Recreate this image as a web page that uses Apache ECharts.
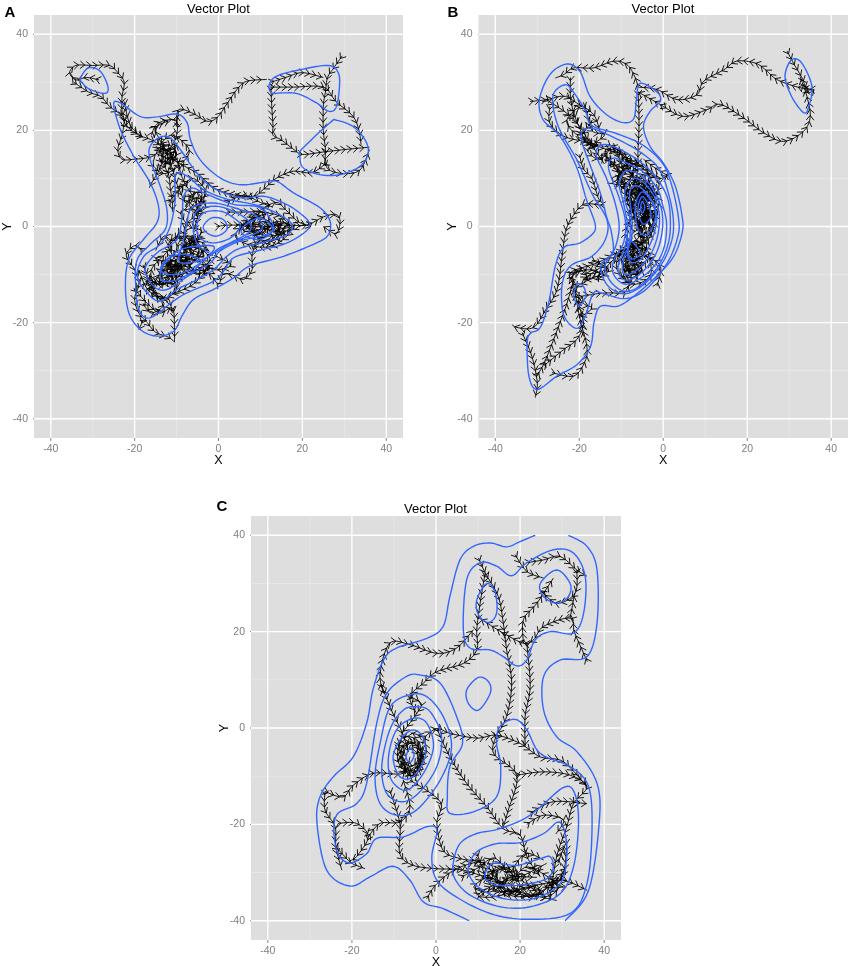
<!DOCTYPE html>
<html>
<head>
<meta charset="utf-8">
<style>html,body{margin:0;padding:0;background:#fff}#main{width:851px;height:966px}</style>
<script src="https://cdn.jsdelivr.net/npm/echarts@6/dist/echarts.min.js"></script>
</head>
<body>
<div id="main"></div>
<script>
const tickValues = [-40, -20, 0, 20, 40];
const minorValues = [-30, -10, 10, 30];

// density contours
const contoursA = [
  [[-32.9,30.9],[-31,33],[-28.2,32.3],[-26.4,29.2],[-27,27.7],[-30.6,28.5],[-32.5,29.9],[-32.9,30.9]],
  [[12.1,29.5],[13.9,31.3],[19.4,32.6],[26.2,33.5],[28.6,31.9],[28.8,28.5],[28,24.7],[26.2,24],[23.4,25.7],[19,27.6],[15.5,27.8],[12.7,27.8],[12.1,29.5]],
  [[19.4,14.6],[19.8,16],[26.6,21.6],[28.2,22.1],[32.1,20.8],[34.9,18.1],[35.7,15.3],[33.7,12.5],[29,10.8],[24.2,10.8],[20.2,12.2],[19.4,14.6]],
  [[-25,25.4],[-23.4,25.7],[-18.7,22.9],[-14.7,22.8],[-9.9,23.4],[-7.5,21.6],[-6.7,18.1],[-4.4,13.9],[0.4,10.1],[5.2,8.7],[10.7,9.2],[13.9,9.4],[17.9,7],[24.2,3.9],[26.6,1.1],[26.2,-1.7],[23.4,-3.4],[15.5,-6.2],[7.5,-8.2],[3.6,-10.7],[-1.2,-13.1],[-6,-15.2],[-8.7,-18.6],[-10.7,-21.8],[-14.7,-22.8],[-18.7,-21.4],[-21.4,-17.9],[-22.2,-12.4],[-21.4,-6.9],[-17.9,-2.7],[-14.7,0.8],[-14.3,4.2],[-16.3,9.1],[-20.2,14.6],[-23.4,20.2],[-25,25.4]],
  [[-16.3,16.7],[-13.9,18.6],[-11.5,18.4],[-9.1,16],[-5.2,11.2],[-1.2,8],[5.2,6],[10.7,6.3],[15.5,4.9],[19.4,2.8],[21.8,0.4],[19.8,-1.7],[15.5,-3.7],[9.1,-5.1],[3.6,-6.5],[1.2,-9.3],[-1.2,-11.4],[-7.5,-13.8],[-10.7,-15.5],[-16.3,-19],[-19,-17.3],[-19.8,-11.7],[-19.4,-6.9],[-16.3,-3.7],[-12.7,-0.6],[-12.3,3.5],[-13.9,8.4],[-16.3,13.9],[-16.3,16.7]],
  [[-10.3,10.8],[-7.5,10.5],[-3.6,7.7],[2,5.7],[8.3,4.6],[13.9,2.8],[17.5,0.4],[16.3,-1.7],[11.5,-3.1],[5.2,-4.5],[2,-6.2],[-1.2,-9],[-5.2,-11.1],[-9.9,-13.1],[-13.9,-15.5],[-17,-13.8],[-19.4,-10.3],[-17.8,-6.2],[-13.9,-3.7],[-11.5,0.1],[-10.3,5.7],[-10.3,10.8]],
  [[-8.3,6.3],[-6.3,8],[-2.8,6.7],[3.6,4.6],[9.9,3.9],[13.1,0.1],[11.5,-1.7],[5.2,-3],[0.4,-5.1],[-2,-7.6],[-6.7,-10],[-12.3,-13.1],[-15.5,-12.4],[-17.5,-8.9],[-14.7,-5.5],[-9.9,-2.7],[-8.7,2.1],[-8.3,6.3]],
  [[-7.5,0.8],[-6.3,3.9],[-1.2,4.9],[5.2,3.5],[9.1,2.1],[10.3,-0.6],[5.2,-2.7],[0.4,-4.4],[-2.8,-6.5],[-7.5,-7.6],[-9.5,-6.9],[-8.3,-2.7],[-7.5,0.8]],
  [[-6,-0.6],[-5.2,3.2],[-0.4,4.2],[4.4,2.8],[7.5,0.8],[7.1,-1.3],[2.8,-3.4],[-1.2,-5.5],[-3.6,-4.8],[-5.2,-3.4],[-6,-0.6]],
  [[-5.2,0.1],[-3.6,2.8],[0.4,3.2],[3.6,1.8],[5.2,0.1],[2.8,-2.4],[-1.2,-3.4],[-4.4,-2.4],[-5.2,0.1]],
  [[-3.6,0.1],[-1.6,1.8],[1.2,1.4],[2,-0.6],[-0.4,-2],[-2.8,-1.3],[-3.6,0.1]],
  [[-13.9,-8.9],[-11.5,-6.2],[-7.5,-4.4],[-1.2,-4.1],[-2.8,-6.5],[-7.5,-9.3],[-11.5,-10],[-13.9,-8.9]],
  [[-13.9,-10.3],[-13.5,-8.6],[-11.5,-6.5],[-8.4,-5.8],[-4.4,-6.9],[-5.6,-8.9],[-9.6,-11],[-13.1,-11.4],[-13.9,-10.3]],
  [[5.9,-0.1],[9.9,1.8],[13,-0.6],[9.9,-2.7],[5.9,-1.7],[5.9,-0.1]]
];
const contoursB = [
  [[29,31.3],[30.6,34.7],[33,34],[35.4,29.2],[34.6,24.8],[33.4,23.7],[30.6,27],[29,31.3]],
  [[-5.5,29.8],[-1.5,28],[-0.7,26.1],[-3.1,24],[-4.7,20.8],[-3.1,16.6],[0.1,13.1],[2.9,8.3],[4.5,2.1],[4.5,-1.3],[2.5,-6.2],[-1.5,-10.3],[-7,-14.5],[-10.9,-16.6],[-15,-16.6],[-16.5,-20],[-17.3,-24.9],[-20.5,-28.7],[-25.3,-31.1],[-30,-33.9],[-32,-31.1],[-32.4,-24.2],[-31.6,-22.2],[-29.3,-21],[-27.3,-15.9],[-25.7,-8.2],[-23.7,-4.4],[-19.8,-3.4],[-16.6,-1.3],[-16.3,0.8],[-18.3,5.6],[-20.7,12.5],[-24.6,18.8],[-28.6,22.2],[-29.5,26.4],[-27,31.6],[-23,33.8],[-19.8,32.2],[-17.4,27],[-13.4,23.2],[-9.4,21.6],[-7,22.5],[-6.4,26.3],[-5.5,29.8]],
  [[-26.3,27.1],[-23.3,29.5],[-21,27.5],[-18.5,24],[-17,21],[-11,19.3],[-5,17],[-0.2,13.2],[2,8.6],[3.6,2],[3.5,-2],[1,-7.5],[-4,-13],[-9,-15],[-14.2,-14],[-16.6,-13.8],[-18.5,-18.4],[-20.6,-21.2],[-23.7,-18.4],[-24.1,-12.2],[-22.1,-8.2],[-17,-6.2],[-13.8,-2.7],[-13.4,1.4],[-17,6.9],[-20.6,13.9],[-25,20.8],[-26.3,27.1]],
  [[-19,20],[-16.5,20.3],[-11,18.2],[-5.5,15.5],[-1,12],[1.2,7],[2.4,1.5],[2,-3],[-0.5,-8],[-5,-12.3],[-9.5,-14],[-13.5,-12],[-14.8,-8],[-12,-5.5],[-12.4,-1],[-13.5,2],[-15,7],[-17.5,13],[-19.5,18],[-19,20]],
  [[-16,15],[-14.5,17],[-11,16.3],[-6,13.8],[-2,10.5],[1,6],[1.7,1],[1.2,-3.5],[-1,-8],[-5,-12],[-9,-13.5],[-12.5,-11.5],[-13.8,-8],[-11.5,-4.5],[-10.5,0],[-11.5,5],[-13.5,10],[-16,15]],
  [[-13,12],[-12,14.2],[-9,13.3],[-5,11.5],[-1.5,8],[0,4],[0.8,0.5],[0.3,-4],[-1.5,-7.5],[-5,-10.5],[-9,-12],[-11.8,-10],[-11.8,-7],[-9.5,-3.5],[-9,1],[-10.5,6],[-13,12]],
  [[-10.5,9],[-9,11.5],[-6,11],[-3,8.5],[-0.7,4.5],[-0.1,0.5],[-1,-4],[-3,-7.5],[-6.5,-10.5],[-9.5,-11],[-10.8,-8.5],[-9,-4],[-8.5,0],[-9.5,5],[-10.5,9]],
  [[-9,8],[-7,10],[-4.5,9],[-2,6],[-0.9,2],[-1.5,-2.5],[-3.5,-6.5],[-7,-9.5],[-9.5,-9.8],[-9.5,-7],[-8,-3],[-8,2],[-9,5],[-9,8]],
  [[-8,7],[-6.5,8.5],[-4,7],[-2,4],[-1.6,1],[-2.8,-3],[-5,-6.5],[-7.5,-7.5],[-8.5,-5.5],[-7.5,-2],[-7.5,2],[-8,7]],
  [[-6.5,5],[-5,7.2],[-3,5.5],[-1.8,2.5],[-2.5,0],[-4,-1.8],[-5.8,-1],[-6.6,2],[-6.5,5]],
  [[-6,4],[-5,6.2],[-3.5,4.5],[-3,2],[-4.5,0.5],[-5.5,1.5],[-6,4]],
  [[-5.4,4],[-5,5.2],[-4.4,4],[-5,2.8],[-5.4,4]],
  [[-8.5,-3],[-7,-3.5],[-5.5,-5.5],[-6.5,-6.5],[-8,-6.5],[-8.5,-3]],
  [[-20.5,-12],[-19,-12.5],[-18.5,-14.5],[-20,-16.5],[-21.3,-14.5],[-20.5,-12]]
];
const contoursC = [
  [[23.6,40],[20,38.7],[16.8,37.6],[12.9,38.4],[8.9,37.7],[5.7,34.9],[3.3,27.3],[1.7,21.1],[-2.2,18.6],[-9.4,16.6],[-12.5,14.1],[-15,7.9],[-16.5,1],[-19.7,-6],[-24.4,-10.1],[-27.6,-14.3],[-28.3,-19.8],[-26,-29.5],[-20.5,-32.8],[-15.7,-30.9],[-10.2,-28.7],[-6.2,-31.6],[-3,-36.1],[1.7,-37.5],[7.9,-40]],
  [[31.5,40],[35.9,37.7],[38.3,32.8],[38.3,21.8],[35.9,14.8],[29.5,14.1],[25.6,10.7],[25.6,3.7],[28.7,-1.8],[33.5,-4.9],[38.3,-11.5],[38.8,-19.8],[36.3,-33.7],[30.7,-40]],
  [[6.5,20.4],[7.3,30.8],[10.5,34.3],[14.4,33.6],[18,31.6],[21.6,34.3],[27.9,37],[32.7,36.3],[35.5,31.4],[35.1,23.8],[32.7,19.7],[27.2,20],[23.6,18.3],[21.6,14.1],[19.2,12.9],[16,14.8],[12.9,16.2],[8.1,16.6],[6.5,20.4]],
  [[9.7,26.6],[12.1,30],[14.1,28],[14.4,23.8],[12.5,21.9],[10.1,23.5],[9.7,26.6]],
  [[24.8,30],[28.7,32.8],[31.9,30],[31.5,27.3],[28.7,25.9],[25.6,27.3],[24.8,30]],
  [[7.3,7.9],[10.1,10.5],[12.5,9.6],[12.9,7.2],[10.1,3.7],[7.7,5.1],[7.3,7.9]],
  [[-3.8,11],[1,9.3],[4.9,2.4],[6.3,-3.2],[3.3,-8],[2.7,-14.3],[3.3,-17.7],[8.9,-17.4],[14.4,-14.3],[15.4,-8],[14.4,-3.2],[15.2,0.3],[18.8,1.8],[21.6,-0.4],[24.8,-5.3],[31.9,-8],[36.3,-12.2],[37.1,-21.2],[35.9,-32.3],[31.9,-38.5],[21.6,-39.7],[12.9,-38.5],[4.9,-35.1],[0.2,-31.6],[-1,-26.8],[0.2,-21.2],[-2.2,-20.5],[-7.8,-22.6],[-14.1,-22.9],[-16.5,-26.1],[-20.5,-28],[-23.3,-26.1],[-24.3,-21.2],[-23.3,-17.7],[-18.9,-15.7],[-16.5,-11.5],[-14.1,1],[-11.7,7.2],[-7,10.7],[-3.8,11]],
  [[-10.9,4.4],[-6.2,6.9],[-2.2,6.5],[1.7,2.4],[3.7,-3.9],[1,-10.8],[-4.6,-17],[-9.4,-18.1],[-13.3,-15.7],[-14.5,-10.1],[-13.3,-3.2],[-10.9,4.4]],
  [[-4.6,4.4],[-1.4,3.4],[1.3,-1.8],[0.2,-8],[-3.8,-13.2],[-7.8,-15.3],[-11.7,-13.6],[-12.9,-8],[-11,-0.4],[-7.8,3.7],[-4.6,4.4]],
  [[-5.4,2],[-2.2,1],[-0.6,-3.9],[-3,-9.4],[-7,-12.9],[-10.6,-10.8],[-11.3,-6],[-9.4,-0.4],[-5.4,2]],
  [[-5.4,-0.4],[-3,-2.1],[-2.6,-6],[-5.4,-10.1],[-8.6,-10.1],[-10.2,-6],[-8.2,-2.1],[-5.4,-0.4]],
  [[-6.2,-4.2],[-5.2,-5.6],[-6.2,-7.2],[-7.1,-6],[-6.2,-4.2]],
  [[4.1,-28.1],[5.7,-24],[9.7,-21.9],[15.2,-20.9],[22.4,-18.1],[30.2,-12.4],[33,-13.6],[33.9,-19.8],[32.7,-28.8],[29.5,-34.4],[22.4,-37.1],[15.2,-37.1],[8.1,-34.7],[4.5,-31.3],[4.1,-28.1]],
  [[7.7,-28.8],[9.7,-25.7],[14.4,-24],[20,-23.8],[25.6,-21.9],[29.1,-19.5],[30.7,-21.9],[31.1,-26.7],[29.5,-32.3],[23.2,-35.4],[16,-35.4],[10.5,-33.3],[8.1,-30.9],[7.7,-28.8]],
  [[11.7,-30.2],[13.7,-28.1],[19.2,-28.5],[24.8,-27.1],[27.1,-26.7],[27.9,-28.8],[26.3,-31.3],[20,-32.6],[14.4,-32.6],[12.1,-31.6],[11.7,-30.2]]
];

// trajectories (black fishbone lines), waypoints
const pathsA = [
  [[29.5,35.5],[27.5,33],[26,31],[25.5,28],[25,25],[25,20],[25.5,16],[25.5,13],[27,11.5],[31,11],[34,12],[36,16]],
  [[12.5,30],[16,31],[20,32],[25,31]],
  [[12.5,29],[18,29],[25,29],[28,26],[32,23],[33.5,20],[34,17]],
  [[12.5,29],[12.7,25],[13,21],[13,19],[15,18],[18,16],[20,15],[25,15.5],[30,16],[36,16.5]],
  [[-10,21],[-9.5,24.3],[-6,23.5],[-2.8,21.9],[-0.4,22.6],[2,25.5],[4.4,28.5],[6.7,30.2],[11.5,30.6]],
  [[25.8,13.2],[22.2,11.2],[17.9,11.5],[13.9,10.1],[10.7,7.7],[8.3,6.3],[3.6,6.6],[-1,8],[-5,11],[-9,13],[-12,15],[-14,18],[-15,20.5],[-12,22]],
  [[-28.5,30.5],[-31.5,31],[-34,30.5],[-35.5,32],[-34,33.5],[-30,33.5],[-26,33.5],[-24,32],[-22.5,30],[-23,27],[-23,24],[-22.5,22],[-23,19],[-24,16],[-23,14],[-20,14],[-16,14.5],[-13,16],[-10,14],[-9,11],[-8,9],[-6,6],[-5,3],[-8,0],[-8,-4]],
  [[-34.5,30],[-31,28],[-28,27],[-26,25],[-23,23],[-22,21],[-19,19],[-16,18],[-13,16],[-11,12],[-10,9],[-8,5]],
  [[-13,15],[-14,12],[-16,9],[-16.5,8]],
  [[-14,14],[-12,11],[-11.5,8],[-11,5],[-11,3]],
  [[-0.5,0],[3,0.3],[8,0],[12,0],[16,0.3],[21,0.3],[25,2],[28,2.5],[29,1],[28,-1.5],[25,0]],
  [[5,0],[9,2],[12,1],[15,-2],[11,-3],[8,-1],[12,-2],[16,-1],[11,1],[7,0],[10,-1.5],[14,1],[18,-0.5],[13,-1],[9,0.5],[6,-1],[11,-0.5],[15,0.5],[12,-3.5],[9,-2]],
  [[8,2],[11,4],[14,5],[16,3.5],[19,1],[22,0]],
  [[2,3],[6,3],[10,3],[15,2],[17,-1],[13,-4],[8,-4],[4,-2],[7,1],[12,3]],
  [[9,-3],[8,-6],[8,-9],[6,-11],[3,-10],[1,-10],[0,-12],[-2,-10],[-5,-9],[-9,-10]],
  [[-7,-5],[-5,-3],[-8,-2],[-10,-5],[-6,-7],[-3,-4],[-7,-3],[-9,-7],[-11,-9],[-12,-7],[-14,-10],[-11,-12],[-8,-9],[-12,-8],[-10,-11],[-15,-12],[-16,-9],[-13,-6],[-11,-4]],
  [[-6,-3],[-8,-5],[-5,-6],[-8,-7],[-10,-8],[-12,-10],[-9,-10],[-11,-7],[-13,-9],[-14,-12],[-10,-9],[-7,-6],[-6,-5],[-9,-4],[-4,-5],[-7,-8],[-10,-6],[-12,-9]],
  [[-16,-13],[-13,-9],[-10,-13],[-14,-15],[-17,-11],[-13,-12],[-9,-8],[-5,-10],[-2,-8],[-6,-12],[-11,-14]],
  [[-4,-2],[-8,-5],[-6,-9],[-2,-7],[-5,-4],[-9,-2],[-12,-4],[-9,-9],[-14,-7],[-16,-6]],
  [[-9,8],[-6,10],[-3,7],[-6,4],[-9,3],[-7,0],[-4,-1],[-7,-4]],
  [[-16,13],[-13,11],[-9,13],[-7,16],[-11,19],[-14,17]],
  [[-18,-16],[-16,-18],[-13,-16],[-17,-13],[-19,-9]],
  [[-18,-5],[-20,-4],[-22,-6],[-20,-9],[-19,-12],[-20,-15],[-19,-18],[-17,-20],[-15,-22],[-12,-23],[-10.5,-24]],
  [[-20,-13],[-17,-16],[-14,-18],[-11,-17],[-10.5,-21],[-10.5,-24]],
  [[-18,-8],[-15,-14],[-12,-15],[-11,-18]],
  [[-18,-19.5],[-19,-21.5]],
  [[-8,5],[-5,6],[-3,4],[-6,3],[-7,6],[-4,7],[-5,2],[-6,-1]],
  [[-12,5],[-10,7],[-8,9]],
  [[-16,19],[-15,21],[-13,22],[-10,22],[-10,19],[-11,17],[-12.5,15]],
  [[-15,16],[-12,17],[-10,15],[-13,13],[-11,15],[-14,16],[-12,13],[-10,17]],
  [[-22.5,26],[-21,21],[-18,18.5]],
  [[2,5],[6,6.5],[10,5],[13,4]],
  [[-1,-6],[3,-8],[-1,-9],[-4,-7]],
  [[-9,-1],[-11,-3],[-13,-2],[-15,-5]]
];
const pathsB = [
  [[29.5,36.5],[31,34],[33,31],[34.5,28],[36,28.5]],
  [[35.8,28.5],[32,29],[27,30.6],[24.5,32.5],[21.9,34],[17.5,34.4],[14.4,32.6],[9.6,30.2],[8,27.4],[3.3,26.4],[-1.5,28.5],[-5.9,29]],
  [[0,25],[4.8,22.9],[10.4,24.3],[13.6,25.4],[19.1,22.6],[23.9,19.5],[28.7,17.7],[33.4,19.8],[35,22.9],[34.2,27.1],[32.6,31.2]],
  [[0,25],[-3,26.5],[-6,28]],
  [[-6,28],[-5.8,24],[-5.8,20],[-6,16],[-6,13]],
  [[-5.9,29],[-7,31.6],[-8.7,33.7],[-11.8,34.4],[-16.6,33],[-21.3,33],[-23.7,31.6],[-25.7,30.9]],
  [[-31.7,26],[-27.7,26.4],[-23.7,27.1],[-20.6,25.7],[-16.6,23.3],[-15,19.5]],
  [[-22.1,31],[-22.1,27],[-21.3,23.6],[-19.8,20.2],[-18.3,17.4],[-16,16.7]],
  [[-27,25],[-27,21.5],[-23.7,18.8],[-19,17.7],[-14.2,16.7]],
  [[-28,26.5],[-21.5,22.5],[-17.5,17.5],[-14,13]],
  [[-19,18],[-15,16.5],[-11,15],[-9,11],[-6,12],[-9,14],[-7,10],[-4,11],[-1,10],[1,10.5]],
  [[-6,5],[-5,8],[-7,9],[-4,3],[-6,0],[-4.5,2],[-6.5,6],[-4,6],[-5,1],[-7,3],[-5,7],[-3,5],[-5,-1],[-5,-3],[-7,-5],[-9,-6],[-6,-8],[-8,-9],[-10,-7],[-7,-4],[-5,-6]],
  [[-4,8],[-6,3],[-3,2],[-5,5],[-6,8],[-8,6],[-6,1],[-3,4]],
  [[-7,10],[-5,6],[-7,4],[-4,5],[-6,9],[-3,7],[-5,3],[-3,0],[-6,-2],[-4,4],[-8,8],[-5,10],[-2,6],[-6,6],[-4,1],[-7,1]],
  [[-12,16],[-8,14],[-4,12],[-1,9],[-3,6],[-8,7],[-11,10],[-7,13],[-3,10],[-6,7],[-8,3],[-7,-1],[-3,2],[-1,5],[-4,9]],
  [[-9,5],[-7,8],[-4,9],[-2,5],[-3,-1],[-6,-4],[-9,-2],[-7,2],[-4,-3],[-2,2],[-5,4]],
  [[-3,-6],[-6,-3],[-10,-5],[-11,-9],[-7,-12],[-3,-10],[-4,-6],[-8,-8],[-10,-11]],
  [[-17,-7],[-13,-9],[-16,-11],[-12,-7],[-9,-5]],
  [[-22,-11],[-20,-9],[-18,-11],[-21,-13],[-19,-16],[-17,-17],[-20,-19]],
  [[-17,22],[-20,19],[-23,22],[-19,25],[-17,20],[-14,19],[-18,16],[-15,14],[-12,17]],
  [[-10,14],[-8,12],[-12,13],[-14,15],[-10,11],[-12,9],[-9,9],[-7,12],[-11,16],[-13,17],[-9,15]],
  [[-13,14],[-10,10],[-9,7],[-7,3],[-9,9],[-11,12]],
  [[-5,-8],[-8,-6],[-6,-10],[-9,-8],[-7,-3],[-4,-5],[-8,-4],[-6,-6],[-9,-11],[-7,-12]],
  [[-20,15],[-19,12],[-17,10],[-15.5,6],[-14.5,4.5],[-19,4.6],[-22,1.5],[-23.3,-1.3],[-24.1,-6.2],[-25.3,-13.1],[-28,-17.3],[-30.9,-21],[-34.9,-21],[-36,-20.4]],
  [[-33.6,-22.1],[-31.3,-27],[-30,-32.5],[-30.5,-35.6]],
  [[-30,-31],[-28,-27.7],[-24.9,-20.7],[-22.9,-15.9],[-21.3,-11]],
  [[-28.5,-29],[-23.7,-25.6],[-20.6,-23.5],[-19,-20],[-20.2,-15.2],[-16.6,-14.1],[-12.6,-13.8],[-9.4,-13.8],[-7.9,-11.7]],
  [[-26.5,-30.4],[-21.3,-31.1],[-18.6,-28],[-18.2,-24.9],[-19.8,-19.3],[-21.3,-12.4],[-22.1,-9.6],[-15.8,-7.6],[-11,-5.5],[-6.3,-4.1]],
  [[-22,-10],[-18,-9],[-15,-10],[-19,-11],[-14,-8]],
  [[-1.5,-12.4],[-0.7,-8.2],[-4.7,-6.2],[-7.9,-7]],
  [[1.3,10.5],[-1.5,11.9],[-4.7,14]],
  [[-8,-11],[-5,-9],[-8,-7],[-6,-5],[-9,-8],[-7,-10],[-4,-7]]
];
const pathsC = [
  [[-26.4,-13.2],[-22.1,-14.3],[-19.7,-11.9],[-14.9,-9.4],[-7.8,-9.4],[-6.2,-6]],
  [[-26.4,-13.2],[-26.4,-17],[-24,-20.5],[-23.8,-24.7],[-22.4,-29.5]],
  [[-23.3,-19.8],[-18.9,-19.8],[-16.1,-22.6],[-18.9,-26.7],[-20.5,-27.8],[-16.9,-29.2]],
  [[-23.8,-24.7],[-20.5,-27.8]],
  [[-16.1,-22.6],[-13.3,-19.8],[-8.6,-19.5],[-6.2,-16.4],[-7.8,-10.8]],
  [[-11,-12.9],[-8.6,-19.8],[-8.6,-26.1],[-5.4,-28.5],[0.2,-29.2],[6.5,-29.5],[13.7,-31.6]],
  [[-2.2,-35.4],[0.2,-32.3],[4.9,-29.2],[11.3,-27.4]],
  [[-6.2,-10.8],[1,-15.3],[0.2,-19.8],[1.7,-25.4],[5.7,-27.1],[11.3,-28.1],[14.4,-31.6]],
  [[-3,-2.1],[0.2,-0.1],[3.3,-1.1],[9.7,-2.1],[14.4,-1.5],[20,-3.2],[24.8,-6],[30.3,-7],[35.9,-12.2]],
  [[0.2,-0.1],[3.3,-6],[7.3,-11.5],[12.1,-16.4],[16,-20.9],[20,-22.2],[21.6,-26.7],[24.8,-30.9]],
  [[14.4,-1.5],[13.7,-5.3],[19.2,-9.8],[17.2,-17],[16,-20.5]],
  [[19.2,-9.8],[25.6,-9.1],[31.9,-9.8],[35.9,-12.2],[32.7,-15.7],[31.1,-20.5],[28.7,-26.7],[27.1,-35.1]],
  [[22.4,-17.7],[27.9,-15.3],[35.9,-15.7]],
  [[21.6,-20],[25.6,-18.1],[30.3,-19.1],[28.5,-22]],
  [[36,13.8],[33,19.7],[31.9,22.8],[25.6,21.1],[23.2,18.3],[20.8,17.6],[16,19.7],[12.1,21.8],[9.7,23.1]],
  [[20.8,17.6],[20.8,22.5],[24,25.9],[27.9,31.1]],
  [[10.1,35.3],[11.7,32.2],[14.8,27.3],[16,21.8],[16.8,16.2],[18,9.3],[16.8,2.4],[14.4,-1.5]],
  [[11.7,32.2],[10.5,25.9],[9.7,20.4],[9.7,16.2],[6.5,13.4],[0.2,11.7],[-3,9.3],[-6.2,6.5],[-4.6,3]],
  [[21.6,17.6],[22.4,8.6],[21.2,2.4],[21.2,-3.9]],
  [[-12.5,7.2],[-13.3,11.4],[-11,17.6],[-6.2,17.3],[0.2,15.5],[4.9,16.6],[8.9,20.4]],
  [[-13,9],[-10.6,3.7],[-8,-1],[-6.5,-5]],
  [[18.8,36],[21.6,32.5],[25.6,31.1]],
  [[21.6,34.3],[25.6,34.9],[29.5,35.6],[33.5,32.8],[35.9,31.5]],
  [[33.5,32.8],[33.1,28],[28.7,25.9],[24.8,28.7]],
  [[31.9,22.8],[33,28]],
  [[9.7,-34.7],[14.4,-32.3],[20,-30.9],[26.3,-28.1]],
  [[13,-28],[16,-33],[21.6,-34.4],[28.7,-35.8]],
  [[9.7,-26],[14.4,-33.7],[25.6,-32.3],[30.3,-31.6],[36,-33.7]],
  [[14,-30],[17,-29],[21,-32],[25,-34],[19,-35],[15,-33],[18,-31],[24,-31]],
  [[6,-31],[10,-29],[14,-27],[17,-31],[13,-34],[9,-33],[13,-31],[17,-34],[22,-33],[26,-35],[29,-33],[25,-30],[21,-29],[18,-33],[23,-35],[28,-32],[31,-29]],
  [[12,-31],[16,-29],[20,-33],[14,-35],[10,-35]],
  [[29,-28],[31,-24],[30,-31],[26,-33],[31,-33]],
  [[17.6,-30.2],[21.2,-26.1],[25.6,-27.4]],
  [[-6,-4],[-4,-6],[-6,-8],[-8,-6],[-6,-3],[-3.5,-5],[-5,-8.5],[-8,-8],[-8,-4],[-5.5,-3],[-3,-6.5],[-6,-10],[-8,-7]],
  [[-9,-3],[-7,-9],[-4,-8],[-4,-3],[-8,-2],[-9,-7],[-5,-10],[-3,-5]],
  [[-2.2,-5.3],[-3,-2.1],[-6,-1]],
  [[-6.2,6.5],[-3.5,5],[-5,2.5],[-8,-1]]
];

const panels = [
  { letter: 'A', letterX: 4.5, letterY: 5, titleY: 2.5, left: 34, right: 448, top: 15, bottom: 528, contours: contoursA, paths: pathsA },
  { letter: 'B', letterX: 447.5, letterY: 5, titleY: 2.5, left: 478.5, right: 3, top: 15, bottom: 528, contours: contoursB, paths: pathsB },
  { letter: 'C', letterX: 216.5, letterY: 499.5, titleY: 502.5, left: 251, right: 230, top: 516, bottom: 26, contours: contoursC, paths: pathsC }
];

const SPACING = 6.2; // px between chevrons
const WING = 6;      // px
const ANGLE = 0.68;

// rounds a line in screen space, wraps round when the line is a closed loop
function roundPath(pts) {
  const last = pts.length - 1;
  const closed = pts[0][0] === pts[last][0] && pts[0][1] === pts[last][1];
  const at = i => {
    if (closed) return pts[(i + last) % last];
    return pts[Math.min(Math.max(i, 0), last)];
  };
  const out = [];
  for (let s = 0; s < last; s++) {
    const p0 = at(s - 1), p1 = at(s), p2 = at(s + 1), p3 = at(s + 2);
    for (let k = 0; k < 8; k++) {
      const t = k / 8, t2 = t * t, t3 = t2 * t;
      out.push([0, 1].map(d => 0.5 * (2 * p1[d] + (p2[d] - p0[d]) * t + (2 * p0[d] - 5 * p1[d] + 4 * p2[d] - p3[d]) * t2 + (3 * p1[d] - p0[d] - 3 * p2[d] + p3[d]) * t3)));
    }
  }
  out.push(pts[last]);
  return out;
}

function contourRender(contours) {
  return function (params, api) {
    return {
      type: 'polyline',
      shape: { points: roundPath(contours[api.value(0)].map(p => api.coord(p))) },
      style: { stroke: '#3366ff', lineWidth: 1.4, fill: null }
    };
  };
}

function chevronRender(paths) {
  return function (params, api) {
    const pts = roundPath(paths[api.value(0)].map(p => api.coord(p)));
    const children = [{
      type: 'polyline',
      shape: { points: pts },
      style: { stroke: '#000', lineWidth: 0.9, fill: null }
    }];
    let walked = SPACING / 2;
    for (let s = 1; s < pts.length; s++) {
      const a = pts[s - 1], b = pts[s];
      const dx = b[0] - a[0], dy = b[1] - a[1];
      const len = Math.hypot(dx, dy);
      const ang = Math.atan2(dy, dx);
      while (walked <= len && len > 0) {
        const t = walked / len;
        const cx = a[0] + dx * t, cy = a[1] + dy * t;
        children.push({
          type: 'polyline',
          shape: { points: [
            [cx - WING * Math.cos(ang - ANGLE), cy - WING * Math.sin(ang - ANGLE)],
            [cx, cy],
            [cx - WING * Math.cos(ang + ANGLE), cy - WING * Math.sin(ang + ANGLE)]
          ] },
          style: { stroke: '#000', lineWidth: 0.9, fill: null }
        });
        walked += SPACING;
      }
      walked -= len;
    }
    return { type: 'group', children: children };
  };
}

const grids = [], xAxes = [], yAxes = [], series = [], titles = [];

function axisBase(name, idx, gap) {
  return {
    gridIndex: idx, type: 'value', min: -44, max: 44, name: name,
    nameLocation: 'middle', nameGap: gap, nameMoveOverlap: false,
    nameTextStyle: { color: '#000', fontSize: 12.5, fontFamily: 'Liberation Sans' },
    axisLine: { show: false },
    axisTick: { show: false },
    axisLabel: { show: true, customValues: tickValues, color: '#7f7f7f', fontSize: 10.5, fontFamily: 'Liberation Sans', margin: 6, hideOverlap: false },
    splitLine: { show: false }, minorSplitLine: { show: false }
  };
}

panels.forEach((p, idx) => {
  grids.push({ left: p.left, right: p.right, top: p.top, bottom: p.bottom, show: true, backgroundColor: '#dedede', borderWidth: 0, outerBoundsMode: 'none' });
  xAxes.push(axisBase('X', idx, 23));
  yAxes.push(axisBase('Y', idx, 26));
  xAxes[idx].nameTextStyle.verticalAlign = 'middle';
  yAxes[idx].nameTextStyle.verticalAlign = 'middle';

  const centre = p.left + 184.5;
  titles.push({ text: 'Vector Plot', left: centre, top: p.titleY, padding: 0, textAlign: 'center', textStyle: { fontSize: 13, fontWeight: 'normal', color: '#000', fontFamily: 'Liberation Sans' } });
  titles.push({ text: p.letter, left: p.letterX, top: p.letterY, padding: 0, textStyle: { fontSize: 15, fontWeight: 'bold', color: '#000', fontFamily: 'Liberation Sans' } });

  const line = (data, color, width, z) => ({
    type: 'line', xAxisIndex: idx, yAxisIndex: idx, data: data, showSymbol: false, symbol: 'none', silent: true,
    lineStyle: { color: color, width: width }, z: z
  });
  minorValues.forEach(v => {
    series.push(line([[v, -44], [v, 44]], '#e8e8e8', 0.8, 1));
    series.push(line([[-44, v], [44, v]], '#e8e8e8', 0.8, 1));
  });
  tickValues.forEach(v => {
    series.push(line([[v, -44], [v, 44]], '#ffffff', 1.3, 1));
    series.push(line([[-44, v], [44, v]], '#ffffff', 1.3, 1));
    // tick marks, just outside the panel
    const tx = line([[v, -44], [v, -44.6]], '#7f7f7f', 1, 1);
    tx.clip = false;
    const ty = line([[-44, v], [-44.7, v]], '#7f7f7f', 1, 1);
    ty.clip = false;
    series.push(tx, ty);
  });
  series.push({
    type: 'custom', xAxisIndex: idx, yAxisIndex: idx, silent: true, z: 2,
    renderItem: chevronRender(p.paths),
    encode: { x: 0, y: 0 },
    data: p.paths.map((_, i) => [i])
  });
  series.push({
    type: 'custom', xAxisIndex: idx, yAxisIndex: idx, silent: true, z: 3,
    renderItem: contourRender(p.contours),
    encode: { x: 0, y: 0 },
    data: p.contours.map((_, i) => [i])
  });
});

const chart = echarts.init(document.getElementById('main'), null, { renderer: 'canvas' });
chart.setOption({
  animation: false,
  backgroundColor: '#fff',
  title: titles,
  grid: grids,
  xAxis: xAxes,
  yAxis: yAxes,
  series: series
});
</script>
</body>
</html>
